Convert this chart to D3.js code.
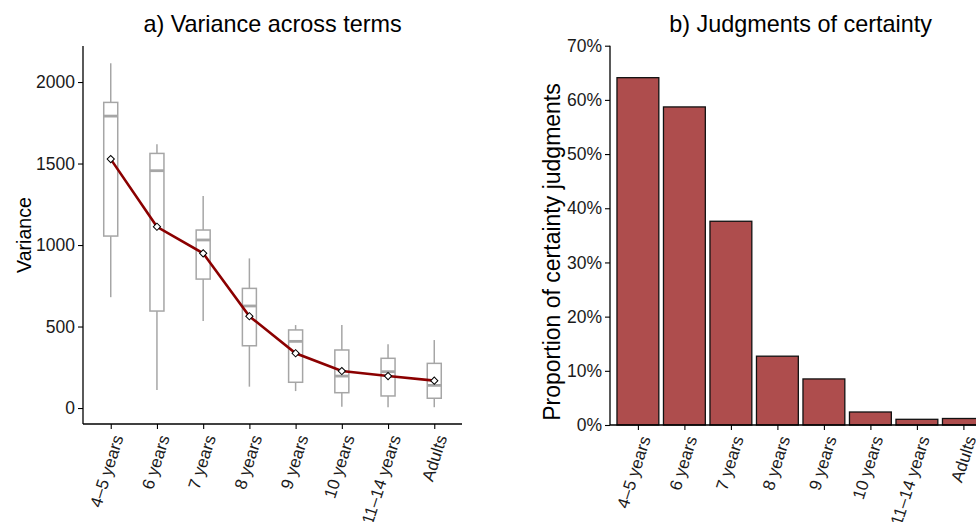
<!DOCTYPE html>
<html><head><meta charset="utf-8">
<script src="https://cdn.jsdelivr.net/npm/d3@7"></script>
<style>body{margin:0;background:#fff;}svg{display:block;font-family:"Liberation Sans",Arial,sans-serif;}</style>
</head><body>
<svg id="c" width="976" height="522"></svg>
<script>
const categories = ["4–5 years","6 years","7 years","8 years","9 years","10 years","11–14 years","Adults"];
// boxplot stats for panel a
const whiskerLow  = [680, 110, 534, 131, 104, 8, 4, 5];
const boxLow      = [1055, 595, 791, 382, 158, 94, 74, 60];
const medians     = [1791, 1456, 1031, 626, 409, 196, 223, 139];
const boxHigh     = [1875, 1562, 1092, 734, 479, 356, 305, 274];
const whiskerHigh = [2115, 1618, 1300, 918, 509, 509, 391, 417];
const means       = [1527, 1112, 949, 563, 336, 227, 196, 168];
const varianceTicks = [0, 500, 1000, 1500, 2000];
// panel b
const certainty = [0.641, 0.587, 0.376, 0.127, 0.085, 0.024, 0.0105, 0.012];
const certaintyTicks = [0, 0.1, 0.2, 0.3, 0.4, 0.5, 0.6, 0.7];

const svg = d3.select("#c");
const tickFont = 17.5;

// ---------- Panel a ----------
const ax = {left: 83, right: 462, top: 46, bottom: 424};
const xa = d3.scalePoint().domain(categories).range([ax.left, ax.right]).padding(0.6);
const ya = d3.scaleLinear().domain([-98, 2221]).range([ax.bottom, ax.top]);
const bw = 14;

const ga = svg.append("g");
const boxes = ga.selectAll("g.box").data(categories).join("g").attr("class","box");
boxes.append("line").attr("x1", d=>xa(d)).attr("x2", d=>xa(d))
  .attr("y1", (d,i)=>ya(boxHigh[i])).attr("y2", (d,i)=>ya(whiskerHigh[i]))
  .attr("stroke","#a6a6a6").attr("stroke-width",1.5);
boxes.append("line").attr("x1", d=>xa(d)).attr("x2", d=>xa(d))
  .attr("y1", (d,i)=>ya(boxLow[i])).attr("y2", (d,i)=>ya(whiskerLow[i]))
  .attr("stroke","#a6a6a6").attr("stroke-width",1.5);
boxes.append("rect").attr("x", d=>xa(d)-bw/2).attr("width", bw)
  .attr("y",(d,i)=>ya(boxHigh[i])).attr("height",(d,i)=>ya(boxLow[i])-ya(boxHigh[i]))
  .attr("fill","#fff").attr("stroke","#a6a6a6").attr("stroke-width",1.5);
boxes.append("line").attr("x1", d=>xa(d)-bw/2).attr("x2", d=>xa(d)+bw/2)
  .attr("y1",(d,i)=>ya(medians[i])).attr("y2",(d,i)=>ya(medians[i]))
  .attr("stroke","#a6a6a6").attr("stroke-width",2.8);

ga.append("path").datum(means)
  .attr("d", d3.line().x((d,i)=>xa(categories[i])).y(d=>ya(d)))
  .attr("fill","none").attr("stroke","#8b0000").attr("stroke-width",2.6);
ga.selectAll("path.pt").data(means).join("path").attr("class","pt")
  .attr("d", d3.symbol(d3.symbolSquare, 26))
  .attr("transform",(d,i)=>`translate(${xa(categories[i])},${ya(d)}) rotate(45)`)
  .attr("fill","#fff").attr("stroke","#000").attr("stroke-width",1);

// axes a
const yAxA = ga.append("g").attr("transform",`translate(${ax.left},0)`)
  .call(d3.axisLeft(ya).tickValues(varianceTicks).tickFormat(d3.format("d")).tickSize(5).tickPadding(3));
yAxA.select(".domain").attr("d",`M0,${ax.top}V${ax.bottom}`);
const xAxA = ga.append("g").attr("transform",`translate(0,${ax.bottom})`)
  .call(d3.axisBottom(xa).tickSize(5));
xAxA.select(".domain").attr("d",`M${ax.left},0H${ax.right}`);

// ---------- Panel b ----------
const step = 46.5;
const bx = {left: 610, top: 45.7, bottom: 425, right: 610 + step*8.2};
const xb = d3.scalePoint().domain(categories).range([bx.left, bx.right]).padding(0.6);
const barW = 0.9 * xb.step();
const yb = d3.scaleLinear().domain([0, 0.7]).range([bx.bottom, bx.top]);
const gb = svg.append("g");
gb.selectAll("rect.bar").data(certainty).join("rect").attr("class","bar")
  .attr("x",(d,i)=>xb(categories[i]) - barW/2).attr("width", barW)
  .attr("y", d=>yb(d)).attr("height", d=>yb(0)-yb(d))
  .attr("fill","#ae4d4d").attr("stroke","#111").attr("stroke-width",1.3);
const yAxB = gb.append("g").attr("transform",`translate(${bx.left},0)`)
  .call(d3.axisLeft(yb).tickValues(certaintyTicks).tickFormat(d3.format(".0%")).tickSize(5).tickPadding(3));
yAxB.select(".domain").attr("d",`M0,${bx.top}V${bx.bottom}`);
const xAxB = gb.append("g").attr("transform",`translate(0,${bx.bottom})`)
  .call(d3.axisBottom(xb).tickSize(5));
xAxB.select(".domain").attr("d",`M${bx.left},0H${bx.right}`);

// style axes
svg.selectAll(".domain").attr("stroke","#000").attr("stroke-width",1.3);
svg.selectAll(".tick line").attr("stroke","#000").attr("stroke-width",1.1);
svg.selectAll(".tick text").attr("fill","#1a1a1a").attr("font-size",tickFont).attr("font-family","Liberation Sans, Arial, sans-serif");
[xAxA, xAxB].forEach(g => {
  g.selectAll(".tick text")
    .attr("font-size",17)
    .attr("text-anchor","end").attr("x",0).attr("y",0).attr("dy",0)
    .attr("transform","translate(12.5,13.5) rotate(-72)");
});

// titles
svg.append("text").attr("x",(ax.left+ax.right)/2).attr("y",32).attr("text-anchor","middle")
  .attr("font-size",23.4).attr("fill","#000").text("a) Variance across terms");
svg.append("text").attr("x",(bx.left+bx.right)/2).attr("y",32).attr("text-anchor","middle")
  .attr("font-size",23.4).attr("fill","#000").text("b) Judgments of certainty");
svg.append("text").attr("transform","translate(31,235) rotate(-90)").attr("text-anchor","middle")
  .attr("font-size",19.6).attr("fill","#000").text("Variance");
svg.append("text").attr("transform","translate(560,252) rotate(-90)").attr("text-anchor","middle")
  .attr("font-size",23).attr("fill","#000").text("Proportion of certainty judgments");
</script>
</body></html>
